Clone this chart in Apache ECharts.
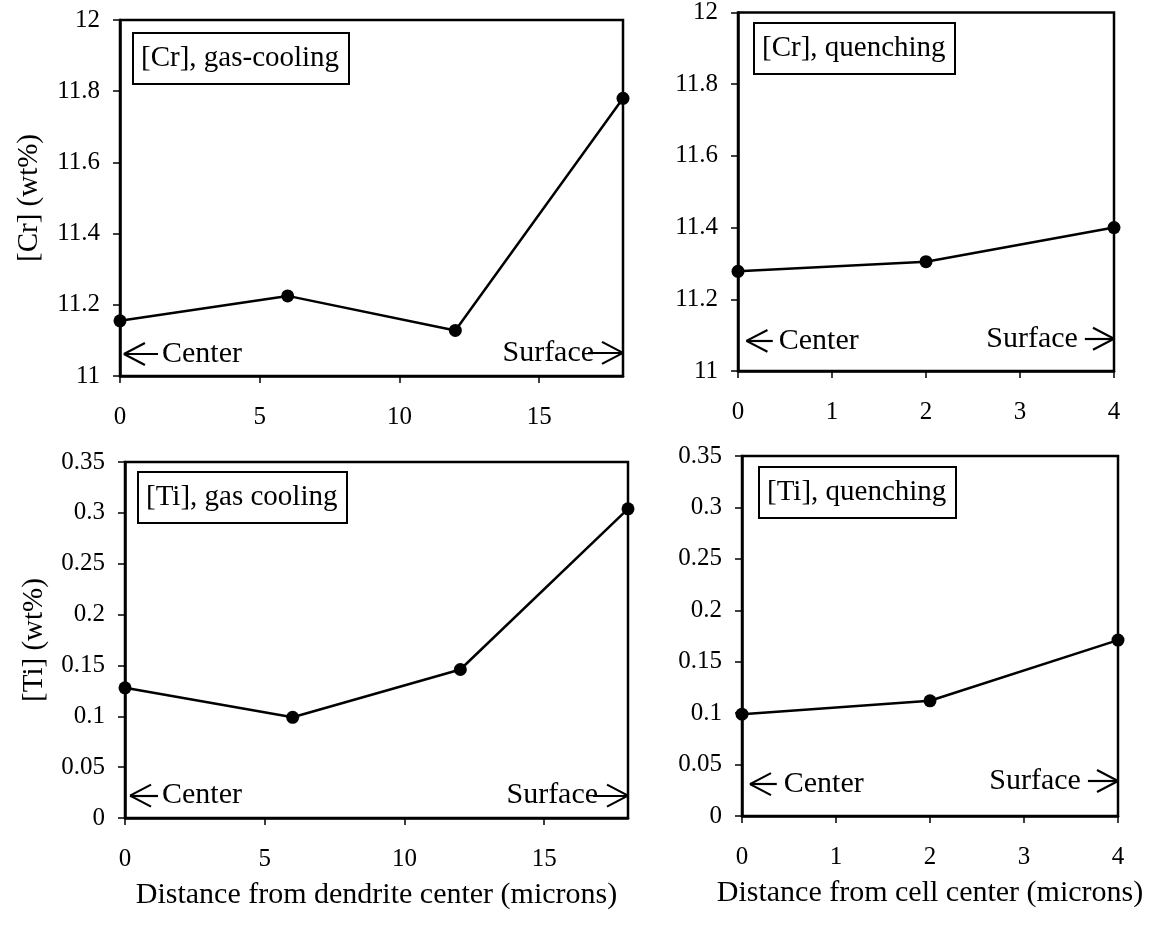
<!DOCTYPE html>
<html>
<head>
<meta charset="utf-8">
<script src="https://cdn.jsdelivr.net/npm/echarts@6/dist/echarts.min.js"></script>
<style>
  html, body { margin: 0; padding: 0; background: #fff; }
  #chart { width: 1152px; height: 925px; }
</style>
</head>
<body>
<div id="chart"></div>
<script>
// Distance from the dendrite / cell centre (microns)
const dendriteDistance = [0, 6, 12, 18];
const cellDistance = [0, 2, 4];

// Concentrations (wt%)
const crGasCooling = [11.155, 11.225, 11.128, 11.78];
const crQuenching = [11.278, 11.305, 11.40];
const tiGasCooling = [0.128, 0.099, 0.146, 0.304];
const tiQuenching = [0.099, 0.112, 0.171];

// Tick labels
const dendriteTicks = [0, 5, 10, 15];
const cellTicks = [0, 1, 2, 3, 4];
const crTicks = [11, 11.2, 11.4, 11.6, 11.8, 12];
const tiTicks = [0, 0.05, 0.1, 0.15, 0.2, 0.25, 0.3, 0.35];

// Texts
const captions = ['[Cr], gas-cooling', '[Cr], quenching', '[Ti], gas cooling', '[Ti], quenching'];
const yNames = ['[Cr] (wt%)', '', '[Ti] (wt%)', ''];
const xNames = ['', '', 'Distance from dendrite center (microns)', 'Distance from cell center (microns)'];
const centerText = 'Center';
const surfaceText = 'Surface';

const FONT = 'Liberation Serif';
const INK = '#000';

// Arrow head legs, in pixels: length back along the shaft and half spread
const HEAD_LEN = 21;
const HEAD_HALF = 11;

const panels = [
  { x: dendriteDistance, y: crGasCooling, xt: dendriteTicks, yt: crTicks,
    grid: { left: 120, top: 20, width: 503, height: 356 },
    cap: { left: 133, top: 33 },
    center: { from: 0.14, to: 1.36, y: 11.062, gap: 4 },
    surface: { from: 16.75, to: 18, y: 11.065, gap: -6 } },
  { x: cellDistance, y: crQuenching, xt: cellTicks, yt: crTicks,
    grid: { left: 738, top: 11, width: 376, height: 360 },
    cap: { left: 754, top: 23 },
    center: { from: 0.09, to: 0.37, y: 11.084, gap: 6 },
    surface: { from: 3.69, to: 4, y: 11.09, gap: 7 } },
  { x: dendriteDistance, y: tiGasCooling, xt: dendriteTicks, yt: tiTicks,
    grid: { left: 125, top: 462, width: 503, height: 356 },
    cap: { left: 138, top: 472 },
    center: { from: 0.18, to: 1.18, y: 0.022, gap: 4 },
    surface: { from: 16.75, to: 18, y: 0.022, gap: -5 } },
  { x: cellDistance, y: tiQuenching, xt: cellTicks, yt: tiTicks,
    grid: { left: 742, top: 456, width: 376, height: 360 },
    cap: { left: 759, top: 467 },
    center: { from: 0.085, to: 0.37, y: 0.031, gap: 7 },
    surface: { from: 3.68, to: 4, y: 0.034, gap: 7 } }
];

const textBase = { color: INK, fontFamily: FONT };
const step = t => +(t[1] - t[0]).toFixed(6);
const seg = (a, b, extra) => [Object.assign({ coord: a }, extra || {}), { coord: b }];

// Shaft, label and open head (two legs) of the Center / Surface arrows
function arrowLines(p) {
  const xMax = p.x[p.x.length - 1];
  const dx = HEAD_LEN * xMax / p.grid.width;
  const dy = HEAD_HALF * (p.yt[p.yt.length - 1] - p.yt[0]) / p.grid.height;
  const c = p.center, s = p.surface;
  const cTip = [c.from, c.y], sTip = [s.to, s.y];
  return [
    seg(cTip, [c.to, c.y], { label: { show: true, position: 'end', formatter: centerText, distance: c.gap } }),
    seg(cTip, [c.from + dx, c.y + dy]),
    seg(cTip, [c.from + dx, c.y - dy]),
    seg([s.from, s.y], sTip, { label: { show: true, position: 'start', formatter: surfaceText, distance: s.gap } }),
    seg(sTip, [s.to - dx, s.y + dy]),
    seg(sTip, [s.to - dx, s.y - dy])
  ];
}

const option = {
  animation: false,
  backgroundColor: '#fff',
  title: panels.map((p, i) => ({
    text: captions[i],
    left: p.cap.left,
    top: p.cap.top,
    padding: [11, 10, 11, 8],
    borderColor: INK,
    borderWidth: 2,
    textStyle: Object.assign({ fontSize: 29, fontWeight: 'normal' }, textBase)
  })),
  grid: panels.map(p => Object.assign({
    show: true, borderColor: INK, borderWidth: 2.5, backgroundColor: 'transparent'
  }, p.grid)),
  xAxis: panels.map((p, i) => ({
    type: 'value',
    gridIndex: i,
    min: 0,
    max: p.x[p.x.length - 1],
    name: xNames[i],
    nameLocation: 'middle',
    nameGap: 62,
    nameTextStyle: Object.assign({ fontSize: 30 }, textBase),
    axisLine: { show: true, lineStyle: { color: INK, width: 2.5 } },
    axisTick: { show: true, inside: false, length: 7, customValues: p.xt, lineStyle: { color: INK, width: 1.5 } },
    axisLabel: Object.assign({ customValues: p.xt, margin: 29, fontSize: 25 }, textBase),
    splitLine: { show: false }
  })),
  yAxis: panels.map((p, i) => ({
    type: 'value',
    gridIndex: i,
    min: p.yt[0],
    max: p.yt[p.yt.length - 1],
    interval: step(p.yt),
    name: yNames[i],
    nameLocation: 'middle',
    nameGap: 76,
    nameTextStyle: Object.assign({ fontSize: 29 }, textBase),
    axisLine: { show: true, lineStyle: { color: INK, width: 2.5 } },
    axisTick: { show: true, inside: false, length: 7, lineStyle: { color: INK, width: 1.5 } },
    axisLabel: Object.assign({ margin: 20, fontSize: 25 }, textBase),
    splitLine: { show: false }
  })),
  series: panels.map((p, i) => ({
    type: 'line',
    xAxisIndex: i,
    yAxisIndex: i,
    data: p.x.map((xv, k) => [xv, p.y[k]]),
    symbol: 'circle',
    symbolSize: 13,
    clip: false,
    lineStyle: { color: INK, width: 2.5 },
    itemStyle: { color: INK },
    z: 3,
    markLine: {
      silent: true,
      animation: false,
      symbol: ['none', 'none'],
      lineStyle: { color: INK, width: 2.2, type: 'solid' },
      label: Object.assign({ show: false, fontSize: 30 }, textBase),
      emphasis: { disabled: true },
      data: arrowLines(p)
    }
  }))
};

const chart = echarts.init(document.getElementById('chart'), null, { renderer: 'canvas' });
chart.setOption(option);
</script>
</body>
</html>
